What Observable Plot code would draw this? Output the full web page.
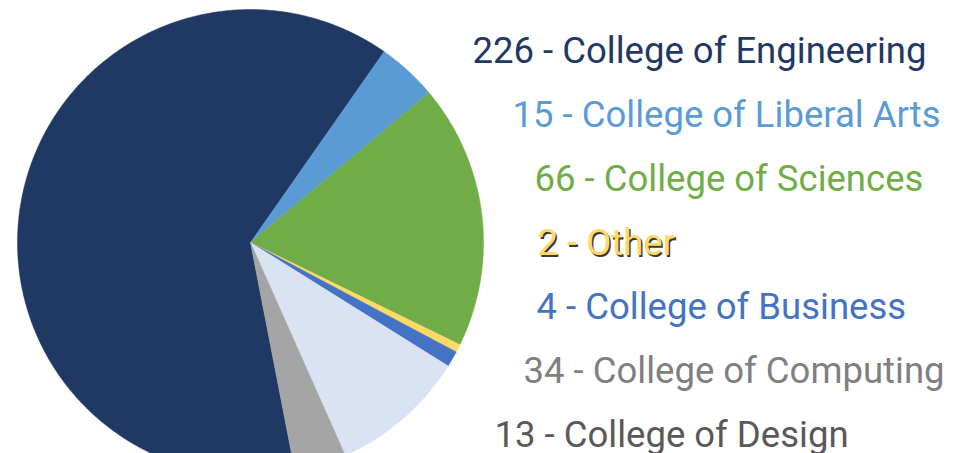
<!DOCTYPE html>
<html>
<head>
<meta charset="utf-8">
<script src="https://cdn.jsdelivr.net/npm/d3@7"></script>
<script src="https://cdn.jsdelivr.net/npm/@observablehq/plot@0.6"></script>
<style>
  html, body { margin: 0; padding: 0; background: #fff; }
  #chart svg { display: block; }
</style>
</head>
<body>
<div id="chart"></div>
<script>
// ---- data ----
const categories = ["College of Engineering", "College of Liberal Arts", "College of Sciences", "Other", "College of Business", "College of Computing", "College of Design"];
const values = [226, 15, 66, 2, 4, 34, 13];

// ---- styles ----
const sliceColors = ["#1f3864", "#5b9bd5", "#70ad47", "#ffd966", "#4472c4", "#dae3f3", "#a5a5a5"];
const labelColors = ["#1f3864", "#5b9bd5", "#70ad47", "#ffd966", "#4472c4", "#7f7f7f", "#595959"];

// ---- layout ----
const W = 956, H = 453;
const cx = 250, cy = 242, R = 233;
const firstSliceAngle = 169; // degrees clockwise from top
const labelX = [472, 512, 534, 537, 536, 523, 494];
const labelY = [51, 115, 179, 243, 307, 371, 435];
const fontSize = 36.5;

// build slice polygons
const total = d3.sum(values);
const slices = [];
let a0 = firstSliceAngle;
values.forEach((v, i) => {
  const span = v / total * 360;
  const a1 = a0 + span;
  const pts = [{x: cx, y: cy}];
  const steps = Math.max(2, Math.ceil(span * 2));
  for (let k = 0; k <= steps; k++) {
    const a = (a0 + span * k / steps) * Math.PI / 180;
    pts.push({x: cx + R * Math.sin(a), y: cy - R * Math.cos(a)});
  }
  pts.push({x: cx, y: cy});
  pts.forEach(p => slices.push({...p, cat: categories[i], color: sliceColors[i]}));
  a0 = a1;
});

const labels = categories.map((c, i) => ({
  text: `${values[i]} - ${c}`,
  x: labelX[i], y: labelY[i], color: labelColors[i], shadow: c === "Other"
}));

const chart = Plot.plot({
  width: W, height: H,
  margin: 0,
  x: {domain: [0, W], range: [0, W], axis: null},
  y: {domain: [0, H], range: [0, H], axis: null},
  style: {background: "#fff"},
  marks: [
    Plot.line(slices, {x: "x", y: "y", z: "cat", fill: "color", stroke: "color", strokeWidth: 0.5, curve: "linear"}),
    Plot.text(labels.filter(d => d.shadow), {x: "x", y: "y", text: "text", fill: "#3a3a3a", dx: 1.5, dy: 1.5, textAnchor: "start", fontSize, fontFamily: "Roboto"}),
    Plot.text(labels, {x: "x", y: "y", text: "text", fill: "color", textAnchor: "start", fontSize, fontFamily: "Roboto"})
  ]
});
document.getElementById("chart").appendChild(chart);
</script>
</body>
</html>
